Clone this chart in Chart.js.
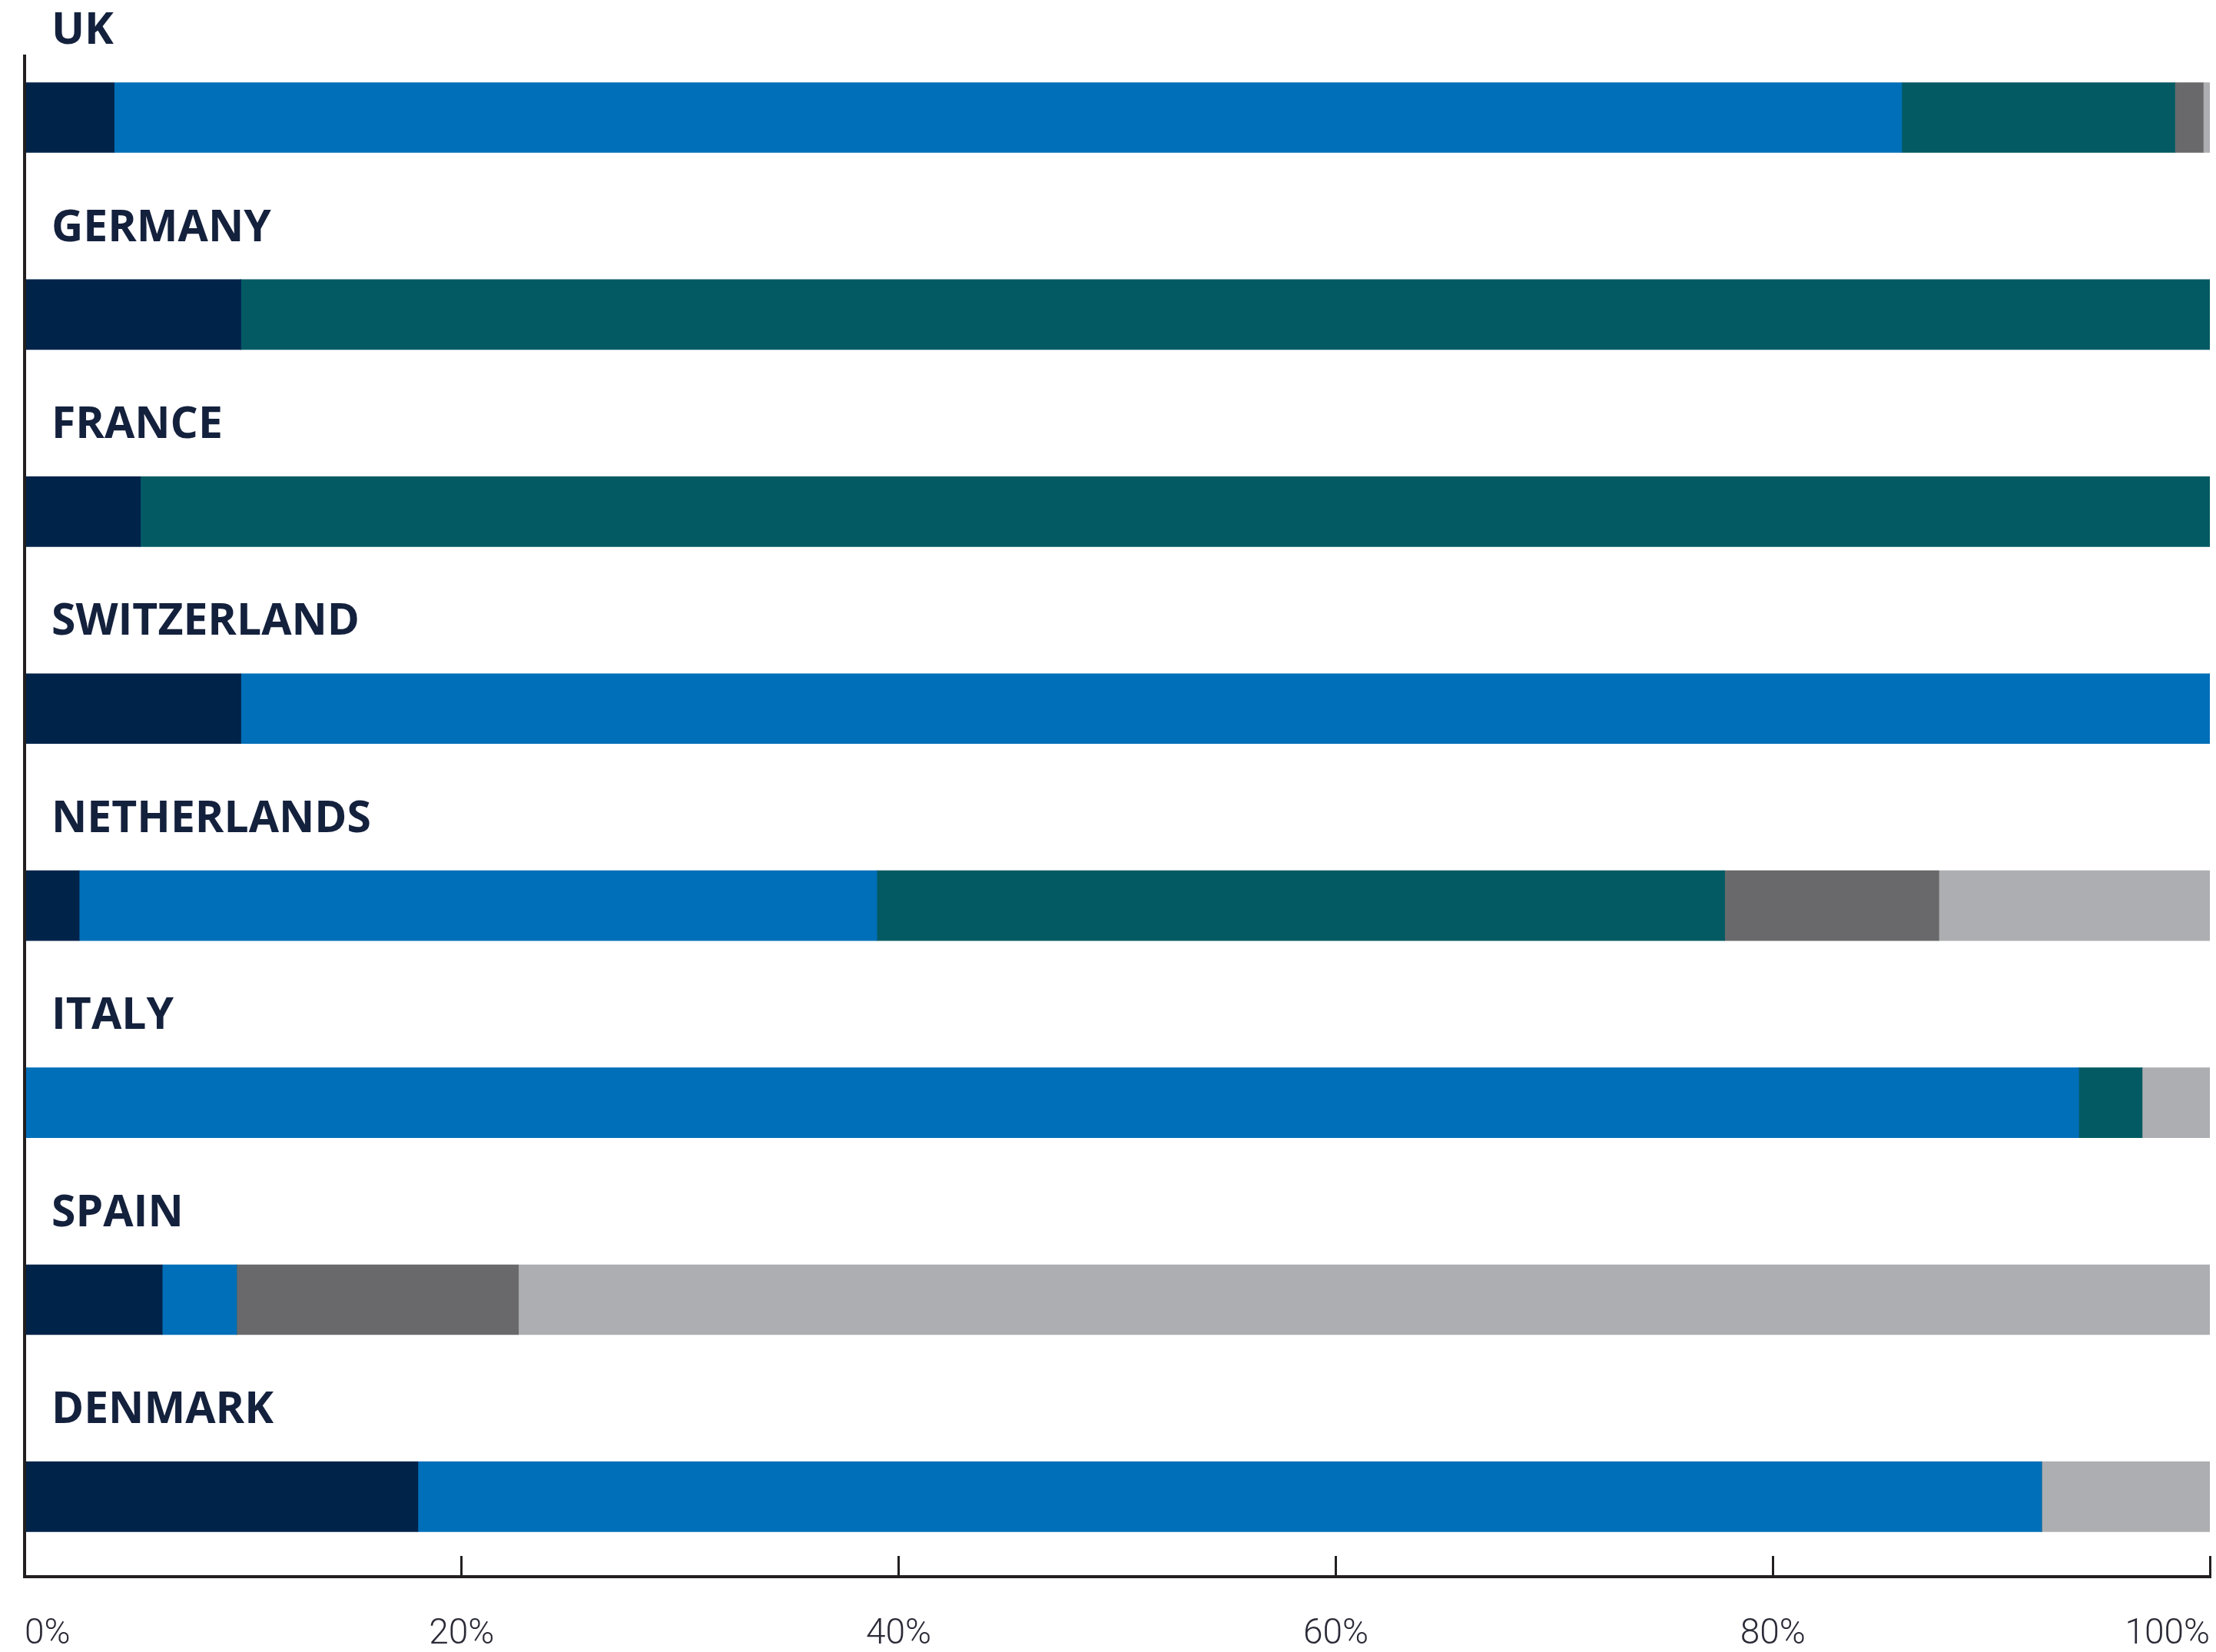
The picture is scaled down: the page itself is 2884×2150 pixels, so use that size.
<!DOCTYPE html>
<html>
<head>
<meta charset="utf-8">
<script src="https://cdn.jsdelivr.net/npm/chart.js@4.4.1/dist/chart.umd.min.js"></script>
<style>
  html, body { margin: 0; padding: 0; background: #ffffff; }
  #wrap { width: 2884px; height: 2150px; }
</style>
</head>
<body>
<div id="wrap"><canvas id="shareChart" width="2884" height="2150"></canvas></div>
<script>
// Countries, top to bottom
const countries = ['UK', 'GERMANY', 'FRANCE', 'SWITZERLAND', 'NETHERLANDS', 'ITALY', 'SPAIN', 'DENMARK'];

// Share of each segment per country (%)
const navyShare  = [4.1, 9.9, 5.3, 9.9, 2.5, 0, 6.3, 18.0];
const blueShare  = [81.8, 0, 0, 90.1, 36.5, 94.0, 3.4, 74.3];
const tealShare  = [12.5, 90.1, 94.7, 0, 38.8, 2.9, 0, 0];
const greyShare  = [1.3, 0, 0, 0, 9.8, 0, 12.9, 0];
const lightShare = [0.3, 0, 0, 0, 12.4, 3.1, 77.4, 7.7];

const xTicks = [0, 20, 40, 60, 80, 100];

const axisColor = '#231f20';

function rows(values) {
    return values.map(function(v, i) { return { x: v, y: i }; });
}

// keep the axes from reserving room for their labels
function noPadding(axis) {
    axis.paddingLeft = 0;
    axis.paddingRight = 0;
    axis.paddingTop = 0;
    axis.paddingBottom = 0;
}

const ctx = document.getElementById('shareChart').getContext('2d');
const shareChart = new Chart(ctx, {
    type: 'bar',
    data: {
        datasets: [
            { label: 'Segment 1', data: rows(navyShare),  backgroundColor: '#00234a' },
            { label: 'Segment 2', data: rows(blueShare),  backgroundColor: '#006fb9' },
            { label: 'Segment 3', data: rows(tealShare),  backgroundColor: '#035a63' },
            { label: 'Segment 4', data: rows(greyShare),  backgroundColor: '#69696b' },
            { label: 'Segment 5', data: rows(lightShare), backgroundColor: '#adaeb1' }
        ]
    },
    options: {
        indexAxis: 'y',
        responsive: false,
        devicePixelRatio: 1,
        animation: false,
        barThickness: 91,
        borderSkipped: false,
        layout: { padding: { top: 73, left: 32, right: 8, bottom: 0 } },
        plugins: {
            legend: { display: false },
            tooltip: { enabled: false }
        },
        scales: {
            x: {
                type: 'linear',
                position: 'bottom',
                stacked: true,
                min: xTicks[0],
                max: xTicks[xTicks.length - 1],
                afterBuildTicks: function(axis) {
                    axis.ticks = xTicks.map(function(v) { return { value: v }; });
                },
                afterFit: function(axis) {
                    noPadding(axis);
                    axis.height = 98;
                },
                border: { display: true, color: axisColor, width: 4, z: 1 },
                grid: {
                    display: true,
                    drawOnChartArea: false,
                    drawTicks: true,
                    tickLength: -27,
                    tickWidth: 3,
                    tickColor: axisColor
                },
                ticks: {
                    align: 'inner',
                    padding: 79,
                    color: '#2b2b38',
                    font: { family: "Roboto, 'Liberation Sans', sans-serif", size: 46, weight: '300', lineHeight: 1 },
                    callback: function(value) { return value + '%'; }
                }
            },
            y: {
                type: 'linear',
                position: 'left',
                reverse: true,
                stacked: true,
                offset: false,
                bounds: 'data',
                grace: 0,
                min: -0.312,
                max: 7.406,
                // one tick per country row
                afterBuildTicks: function(axis) {
                    axis.ticks = countries.map(function(name, i) { return { value: i }; });
                },
                afterFit: function(axis) {
                    noPadding(axis);
                    axis.width = 0;
                },
                border: { display: true, color: axisColor, width: 4, z: 1 },
                grid: { display: false, drawTicks: false, offset: false },
                ticks: {
                    autoSkip: false,
                    mirror: true,
                    padding: 35,
                    labelOffset: -112,
                    color: '#14213d',
                    font: { family: "'Open Sans', sans-serif", size: 57, weight: 'bold' },
                    callback: function(value) {
                        return countries[value];
                    }
                }
            }
        }
    }
});
</script>
</body>
</html>
